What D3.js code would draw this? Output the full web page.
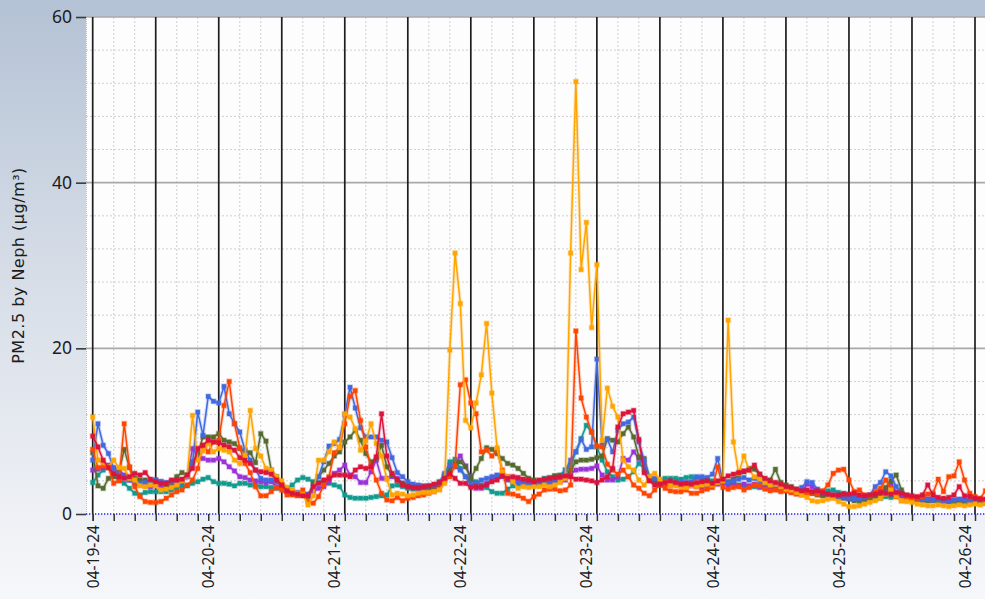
<!DOCTYPE html>
<html><head><meta charset="utf-8">
<script src="https://cdn.jsdelivr.net/npm/d3@7"></script>
<style>html,body{margin:0;padding:0;overflow:hidden;background:#fff}svg{display:block}</style>
</head><body>
<svg id="chart" width="985" height="599"></svg>
<script>
// ---------------- DATA ----------------
const startTime = "2024-04-19T02:00:00";      // first hourly reading
const spanHours = 168;                          // hours between first and last major gridline
const tickLabelTimes = ["2024-04-19T02:00:00","2024-04-20T00:00:00","2024-04-21T00:00:00","2024-04-22T00:00:00",
                        "2024-04-23T00:00:00","2024-04-24T00:00:00","2024-04-25T00:00:00","2024-04-26T00:00:00"];
const tickLabels = ["04-19-24","04-20-24","04-21-24","04-22-24","04-23-24","04-24-24","04-25-24","04-26-24"];
const yTickValues = [0,20,40,60];
const yTitle = "PM2.5 by Neph (µg/m³)";
const seriesNames = ["Sensor A","Sensor B","Sensor C","Sensor D","Sensor E","Sensor F","Sensor G"];

const sensorA = [11.7,6.5,6.2,5.7,6.5,5.6,5.5,4.3,4.1,3.4,3.3,3.5,
3.4,2.9,3.0,3.2,3.5,4.0,4.6,11.9,6.5,7.6,8.5,7.5,
7.9,7.7,7.5,6.5,6.1,7.1,12.5,7.9,7.0,5.5,5.3,4.5,
4.0,3.2,2.9,2.5,2.4,1.1,2.2,6.5,6.5,7.5,8.7,8.0,
12.1,11.7,10.3,7.7,8.8,10.9,8.5,7.0,4.2,2.3,2.5,2.4,
2.2,2.3,2.5,2.6,2.6,2.7,2.9,3.7,19.8,31.5,25.4,11.3,
10.4,13.4,16.8,23.0,14.6,8.0,5.1,4.5,3.9,3.1,3.3,3.2,
3.3,3.3,3.5,3.3,3.5,3.8,4.3,31.5,52.2,29.5,35.2,22.5,
30.1,8.9,15.2,13.0,11.7,6.5,5.7,5.3,4.1,3.5,4.5,4.9,
4.2,3.8,3.5,3.4,3.3,3.2,3.4,3.3,3.5,3.6,3.5,3.8,
4.0,23.4,8.7,4.9,7.0,5.3,4.5,4.2,3.8,3.5,3.6,3.3,
3.0,2.9,2.6,2.3,2.0,1.6,1.5,1.6,1.8,1.9,1.5,1.2,
0.9,0.9,1.0,1.2,1.4,1.6,1.9,2.4,2.9,2.2,1.6,1.5,
1.4,1.2,1.1,1.0,1.0,1.1,1.0,0.9,1.0,1.1,1.0,1.1,
1.2,1.1,1.3];

const sensorB = [7.8,5.6,5.8,5.6,3.7,4.0,10.9,5.7,3.3,2.1,1.5,1.4,
1.4,1.5,1.9,2.3,2.7,2.9,3.5,4.1,5.5,8.3,7.5,8.7,
8.9,13.1,16.0,10.9,8.0,6.1,5.0,3.3,2.2,2.2,2.7,3.2,
2.9,2.3,2.3,2.2,2.9,1.5,1.3,2.1,3.5,4.5,7.4,8.0,
10.9,14.2,14.9,11.3,8.1,5.7,4.1,2.5,1.7,1.6,2.0,1.6,
1.9,2.0,2.2,2.3,2.5,2.7,3.0,4.0,4.5,5.8,15.6,16.2,
13.4,12.1,7.5,7.7,7.0,7.7,5.3,2.5,2.4,2.2,1.9,1.5,
2.1,2.4,2.9,3.0,3.0,2.8,2.9,3.5,22.1,14.0,11.7,9.9,
8.2,8.1,6.0,5.3,4.8,5.3,4.5,3.5,3.1,2.5,2.2,2.9,
3.5,3.1,2.8,2.7,2.7,2.9,2.5,2.5,2.8,3.0,3.2,5.7,
3.2,3.0,3.2,3.3,2.9,3.2,3.5,3.4,3.0,2.8,2.9,2.7,
2.8,2.6,2.4,2.3,2.5,2.6,2.4,2.8,3.5,4.9,5.3,5.4,
4.1,2.7,2.9,2.3,2.2,2.7,3.1,4.1,3.1,2.1,1.6,1.7,
1.8,1.9,2.1,2.4,2.5,4.2,2.7,4.5,4.6,6.3,4.1,2.5,
2.1,1.9,2.8];

const sensorC = [6.5,10.9,8.3,7.3,5.5,4.9,4.5,4.1,3.8,3.7,3.8,3.9,
4.1,3.9,3.8,3.9,4.0,4.1,4.5,6.1,12.3,9.5,14.2,13.6,
13.4,15.4,12.1,10.9,9.9,7.7,6.5,5.3,4.3,4.1,4.1,3.9,
3.4,3.0,2.8,2.6,2.4,2.3,3.3,4.5,6.3,8.2,8.5,9.0,
12.0,15.3,12.8,10.4,9.3,9.3,9.3,8.9,8.7,6.8,5.0,4.5,
3.9,3.6,3.5,3.4,3.4,3.5,3.7,4.9,5.9,5.7,5.3,4.5,
3.5,3.7,4.1,4.3,4.5,4.7,4.5,4.1,3.9,3.7,3.7,3.5,
3.5,3.6,3.8,3.9,4.0,4.3,5.3,6.5,7.5,9.0,7.8,8.1,
18.7,8.3,9.0,7.5,10.1,10.9,11.1,11.7,8.7,6.5,4.3,4.3,
4.1,3.9,3.7,3.7,3.9,3.8,3.9,4.5,4.5,4.4,4.8,6.7,
3.9,3.8,4.0,4.2,4.4,4.1,4.3,3.9,3.7,3.5,3.6,3.3,
3.1,2.9,2.6,3.2,3.9,3.8,3.0,2.6,2.4,2.3,2.1,2.0,
1.9,1.8,1.8,2.0,2.3,3.3,3.8,5.1,4.6,3.3,2.5,2.2,
2.0,1.9,1.8,1.8,1.7,1.7,1.6,1.6,1.7,1.8,1.7,1.6,
1.6,1.7,1.6];

const sensorD = [9.4,8.1,6.5,5.6,4.9,4.5,4.3,4.5,4.9,4.7,5.0,4.2,
3.9,3.7,3.7,4.1,4.1,4.2,4.7,5.5,7.9,8.3,8.9,8.7,
8.6,8.3,8.1,7.7,6.8,6.5,6.1,5.3,5.1,5.0,4.8,4.1,
3.5,2.8,2.5,2.4,2.2,2.2,3.3,3.7,4.1,4.3,4.7,4.7,
4.7,4.5,5.3,5.7,5.5,5.7,6.9,12.1,7.0,4.9,4.1,3.5,
3.3,3.2,3.2,3.3,3.4,3.6,3.8,4.3,4.9,4.3,3.7,3.7,
3.2,3.3,3.3,3.5,3.9,4.1,4.6,4.3,4.5,4.4,4.2,4.1,
3.9,4.1,4.2,4.3,4.4,4.5,4.6,4.5,4.2,4.2,4.1,4.0,
3.8,4.1,4.5,5.5,10.5,12.1,12.3,12.5,9.0,5.0,4.0,3.5,
3.6,3.8,4.0,3.8,3.6,3.7,3.6,3.8,3.9,4.0,3.7,4.0,
4.2,4.6,4.8,5.0,5.2,5.3,5.9,4.8,4.3,4.0,3.8,3.6,
3.3,3.2,3.0,2.8,2.9,2.7,2.8,2.6,2.4,2.3,2.3,2.4,
2.4,2.5,2.3,2.2,2.3,2.4,2.6,2.5,2.4,2.6,2.5,2.3,
2.2,2.1,2.3,3.5,2.3,2.0,1.9,2.0,2.3,3.3,2.2,2.1,
1.9,1.8,1.8];

const sensorE = [5.3,5.4,5.6,5.9,5.6,5.3,4.7,4.1,3.7,3.5,3.4,3.3,
3.4,3.3,3.1,3.3,3.6,3.9,4.5,7.9,7.0,6.7,6.5,6.5,
6.7,6.3,5.7,5.2,4.5,4.4,4.1,4.0,3.9,3.8,3.9,3.3,
3.1,2.7,2.5,2.3,2.3,2.4,2.7,3.1,3.3,3.9,4.9,5.3,
5.9,4.7,4.5,3.8,3.8,5.1,6.5,4.3,4.3,4.5,4.3,3.7,
3.3,3.2,3.1,3.1,3.2,3.3,3.5,4.5,5.5,6.0,7.0,5.8,
4.5,3.1,3.1,3.7,4.1,4.6,4.7,4.5,4.3,4.1,3.9,3.7,
3.6,3.6,3.7,3.7,3.8,3.9,4.1,4.9,5.3,5.4,5.4,5.5,
5.8,4.7,4.1,4.1,4.5,6.7,6.5,7.5,6.7,6.1,4.1,4.1,
3.7,3.6,3.6,3.7,3.6,3.5,3.4,3.3,3.2,3.3,3.5,3.6,
3.7,3.5,3.8,3.4,3.6,3.4,3.6,3.3,3.4,3.2,3.0,2.9,
2.8,2.6,2.5,2.6,3.6,3.3,2.7,2.3,2.1,2.0,2.1,2.0,
1.9,1.8,1.9,2.0,2.1,2.3,2.6,3.0,3.7,2.6,2.2,2.0,
1.9,1.8,1.7,1.8,1.7,1.6,1.6,1.5,1.6,1.7,1.6,1.5,
1.5,1.4,1.5];

const sensorF = [7.4,3.4,3.1,4.3,4.5,5.0,7.8,5.6,4.3,4.1,4.1,3.9,
4.1,3.9,3.3,3.7,4.5,5.0,4.7,6.3,7.3,9.3,9.3,9.3,
9.7,8.9,8.7,8.5,7.9,7.5,7.4,6.2,9.7,8.8,5.3,4.5,
3.5,3.1,2.5,2.4,2.3,2.1,3.7,4.5,5.3,6.1,7.0,7.5,
8.7,9.3,10.1,8.9,7.3,6.3,6.7,8.3,5.7,4.7,4.1,3.7,
3.5,3.4,3.3,3.3,3.2,3.3,3.5,4.5,5.3,6.1,6.3,5.7,
4.3,5.5,6.7,8.0,7.8,7.3,6.7,6.1,5.9,5.5,4.9,4.3,
4.1,3.9,4.1,4.3,4.6,4.6,4.5,5.3,6.3,6.5,6.5,6.6,
6.8,7.0,9.1,8.9,8.7,9.7,10.5,9.3,6.9,6.7,4.5,4.1,
3.5,3.7,3.5,3.7,3.5,3.6,3.8,3.6,3.7,3.8,3.7,3.8,
4.0,3.9,4.2,4.7,5.1,5.5,5.4,4.8,4.2,4.1,5.4,3.8,
3.5,3.3,3.0,2.8,2.7,2.5,2.3,2.2,2.3,2.1,2.0,1.9,
1.8,1.6,1.5,1.7,1.9,2.2,2.4,3.2,4.0,4.7,2.9,2.2,
2.0,1.8,1.7,1.6,1.7,1.6,1.5,1.5,1.4,1.5,1.4,1.4,
1.3,1.4,1.3];

const sensorG = [3.8,4.7,5.3,5.7,4.7,4.1,3.7,3.1,2.5,2.3,2.6,2.7,
2.7,2.7,2.7,2.9,3.1,3.4,3.4,3.7,3.9,4.2,4.4,3.9,
3.7,3.7,3.6,3.4,3.7,3.7,3.5,3.5,3.3,3.3,3.2,3.1,
3.3,3.1,3.5,4.1,4.4,4.2,3.9,3.8,3.9,3.7,3.5,3.3,
2.3,2.0,1.9,1.9,1.9,2.0,2.1,2.2,2.3,3.4,3.5,3.3,
3.1,3.0,3.0,3.0,3.1,3.3,3.9,4.7,6.3,6.6,5.5,4.5,
4.1,3.9,3.5,3.2,2.7,2.5,2.5,3.0,3.4,3.5,3.6,3.7,
3.8,3.9,4.3,4.4,4.6,4.7,5.3,5.9,7.5,9.1,10.7,9.9,
8.1,6.5,5.1,4.5,4.1,4.2,4.5,5.1,6.1,5.5,4.1,3.9,
4.1,4.3,4.3,4.3,4.2,4.4,4.5,4.4,4.3,4.2,4.0,3.8,
4.1,3.7,3.6,3.5,3.4,3.3,3.3,3.2,3.2,3.1,3.0,3.0,
2.9,2.8,2.7,2.6,2.5,2.5,2.6,2.7,2.8,2.9,2.6,2.5,
2.3,2.2,2.0,1.9,1.9,1.8,1.9,2.1,2.0,2.2,2.1,1.9,
1.8,1.7,1.7,1.6,1.6,1.7,1.6,1.6,1.5,1.6,1.5,1.5,
1.5,1.5,1.4];

const seriesValues = [sensorG, sensorE, sensorF, sensorC, sensorB, sensorA, sensorD];
const seriesColors = ["#129a8e","#9a34d8","#556b2f","#4169e1","#ff4500","#ffa500","#dc143c"];

// ---------------- CHART ----------------
const W = 985, H = 599;
const plot = {left: 86, top: 17, right: 985, bottom: 514};
const t0 = d3.isoParse(startTime);
const tEnd = d3.timeHour.offset(t0, spanHours);
const x = d3.scaleTime().domain([t0, tEnd]).range([92.7, 975]);
const y = d3.scaleLinear().domain([0, 60]).range([plot.bottom, plot.top]);
const timeAt = i => d3.timeHour.offset(t0, i);
const FONT = "'Noto Sans', 'Open Sans', sans-serif";

const svg = d3.select("#chart");
const defs = svg.append("defs");
const bg = defs.append("linearGradient").attr("id","bg").attr("x1",0).attr("y1",0).attr("x2",0).attr("y2",1);
bg.append("stop").attr("offset","0").attr("stop-color","#b4c2d5");
bg.append("stop").attr("offset","0.45").attr("stop-color","#d6dde7");
bg.append("stop").attr("offset","1").attr("stop-color","#f6f7fa");
defs.append("clipPath").attr("id","clip").append("rect")
  .attr("x", plot.left).attr("y", plot.top - 3).attr("width", plot.right - plot.left).attr("height", plot.bottom - plot.top + 3);

svg.append("rect").attr("width", W).attr("height", H).attr("fill", "url(#bg)");
svg.append("rect").attr("x", plot.left).attr("y", plot.top)
  .attr("width", plot.right - plot.left).attr("height", plot.bottom - plot.top).attr("fill", "#fdfdfe");

const grid = svg.append("g");
// minor horizontal
d3.range(4, 60, 4).filter(v => v % 20 !== 0).forEach(v => {
  grid.append("line").attr("x1", plot.left).attr("x2", plot.right).attr("y1", y(v)).attr("y2", y(v))
    .attr("stroke", "#cfcfcf").attr("stroke-width", 1).attr("stroke-dasharray", "2,2");
});
// minor vertical (every 4h)
d3.range(4, spanHours + 4, 4).filter(h => h % 12 !== 0).forEach(h => {
  const xx = x(timeAt(h));
  if (xx > plot.right) return;
  grid.append("line").attr("x1", xx).attr("x2", xx).attr("y1", plot.top).attr("y2", plot.bottom)
    .attr("stroke", "#cfcfcf").attr("stroke-width", 1).attr("stroke-dasharray", "2,2");
});
// left border
grid.append("line").attr("x1", plot.left + 0.5).attr("x2", plot.left + 0.5).attr("y1", plot.top).attr("y2", plot.bottom)
  .attr("stroke", "#bdbdbd").attr("stroke-dasharray", "1,1");
// major horizontal
yTickValues.filter(v => v > 0).forEach(v => {
  grid.append("line").attr("x1", plot.left).attr("x2", plot.right).attr("y1", y(v)).attr("y2", y(v))
    .attr("stroke", "#a9a9a9").attr("stroke-width", 1.6);
});
// major vertical (every 12h)
d3.range(0, spanHours + 1, 12).forEach(h => {
  const xx = x(timeAt(h));
  grid.append("line").attr("x1", xx).attr("x2", xx).attr("y1", plot.top).attr("y2", plot.bottom)
    .attr("stroke", "#1e1e1e").attr("stroke-width", 1.7);
});
// zero baseline (blue dotted)
grid.append("line").attr("x1", plot.left).attr("x2", plot.right).attr("y1", y(0)).attr("y2", y(0))
  .attr("stroke", "#2020ff").attr("stroke-width", 1.3).attr("stroke-dasharray", "1.3,1.7");

// series
const series = svg.append("g").attr("clip-path", "url(#clip)");
const line = d3.line().x((d, i) => x(timeAt(i))).y(d => y(d));
seriesValues.forEach((vals, k) => {
  const c = seriesColors[k];
  const g = series.append("g");
  g.append("path").attr("d", line(vals)).attr("fill", "none").attr("stroke", c)
    .attr("stroke-width", 3.6).attr("stroke-opacity", 0.22).attr("stroke-linejoin", "round");
  g.append("path").attr("d", line(vals)).attr("fill", "none").attr("stroke", c)
    .attr("stroke-width", 1.5).attr("stroke-linejoin", "round");
  g.selectAll("rect").data(vals).join("rect")
    .attr("x", (d, i) => x(timeAt(i)) - 2.2).attr("y", d => y(d) - 2.2)
    .attr("width", 4.4).attr("height", 4.4).attr("fill", c)
    .attr("stroke", c).attr("stroke-opacity", 0.3).attr("stroke-width", 1.6);
});

// y axis
const yAxis = svg.append("g").attr("transform", `translate(${plot.left},0)`)
  .call(d3.axisLeft(y).tickValues(yTickValues).tickSize(10).tickPadding(4).tickFormat(d3.format("d")));
yAxis.select(".domain").remove();
yAxis.selectAll(".tick line").attr("stroke", "#3a3a3a").attr("stroke-width", 1.6);
yAxis.selectAll(".tick text").attr("font-family", FONT).attr("font-size", 17.5).attr("fill", "#1c1c1c");

// x axis minor tick marks every 4h
const tickHours = d3.range(0, spanHours + 4, 4).filter(h => x(timeAt(h)) <= plot.right);
const xMinor = svg.append("g").attr("transform", `translate(0,${plot.bottom})`)
  .call(d3.axisBottom(x).tickValues(tickHours.map(timeAt)).tickSize(7).tickFormat(""));
xMinor.select(".domain").remove();
xMinor.selectAll(".tick line").attr("stroke", "#333").attr("stroke-width", 1.5);

// x axis date labels
const labelDates = tickLabelTimes.map(d3.isoParse);
const xLab = svg.append("g").attr("transform", `translate(0,${plot.bottom})`)
  .call(d3.axisBottom(x).tickValues(labelDates).tickSize(7).tickFormat((d, i) => tickLabels[i]));
xLab.select(".domain").remove();
xLab.selectAll(".tick line").attr("stroke", "#333").attr("stroke-width", 1.5);
xLab.selectAll(".tick text")
  .attr("transform", "rotate(-90)").attr("text-anchor", "end")
  .attr("x", -11).attr("y", 0).attr("dy", "0.36em")
  .attr("font-family", FONT).attr("font-size", 15.5).attr("fill", "#1c1c1c");

// y title
svg.append("text").attr("transform", `translate(18,${(plot.top + plot.bottom) / 2}) rotate(-90)`)
  .attr("text-anchor", "middle").attr("dominant-baseline", "central")
  .attr("font-family", "'DejaVu Sans', sans-serif").attr("font-size", 16).attr("letter-spacing", 0.5)
  .attr("fill", "#1c1c1c")
  .text(yTitle);
</script>
</body></html>
